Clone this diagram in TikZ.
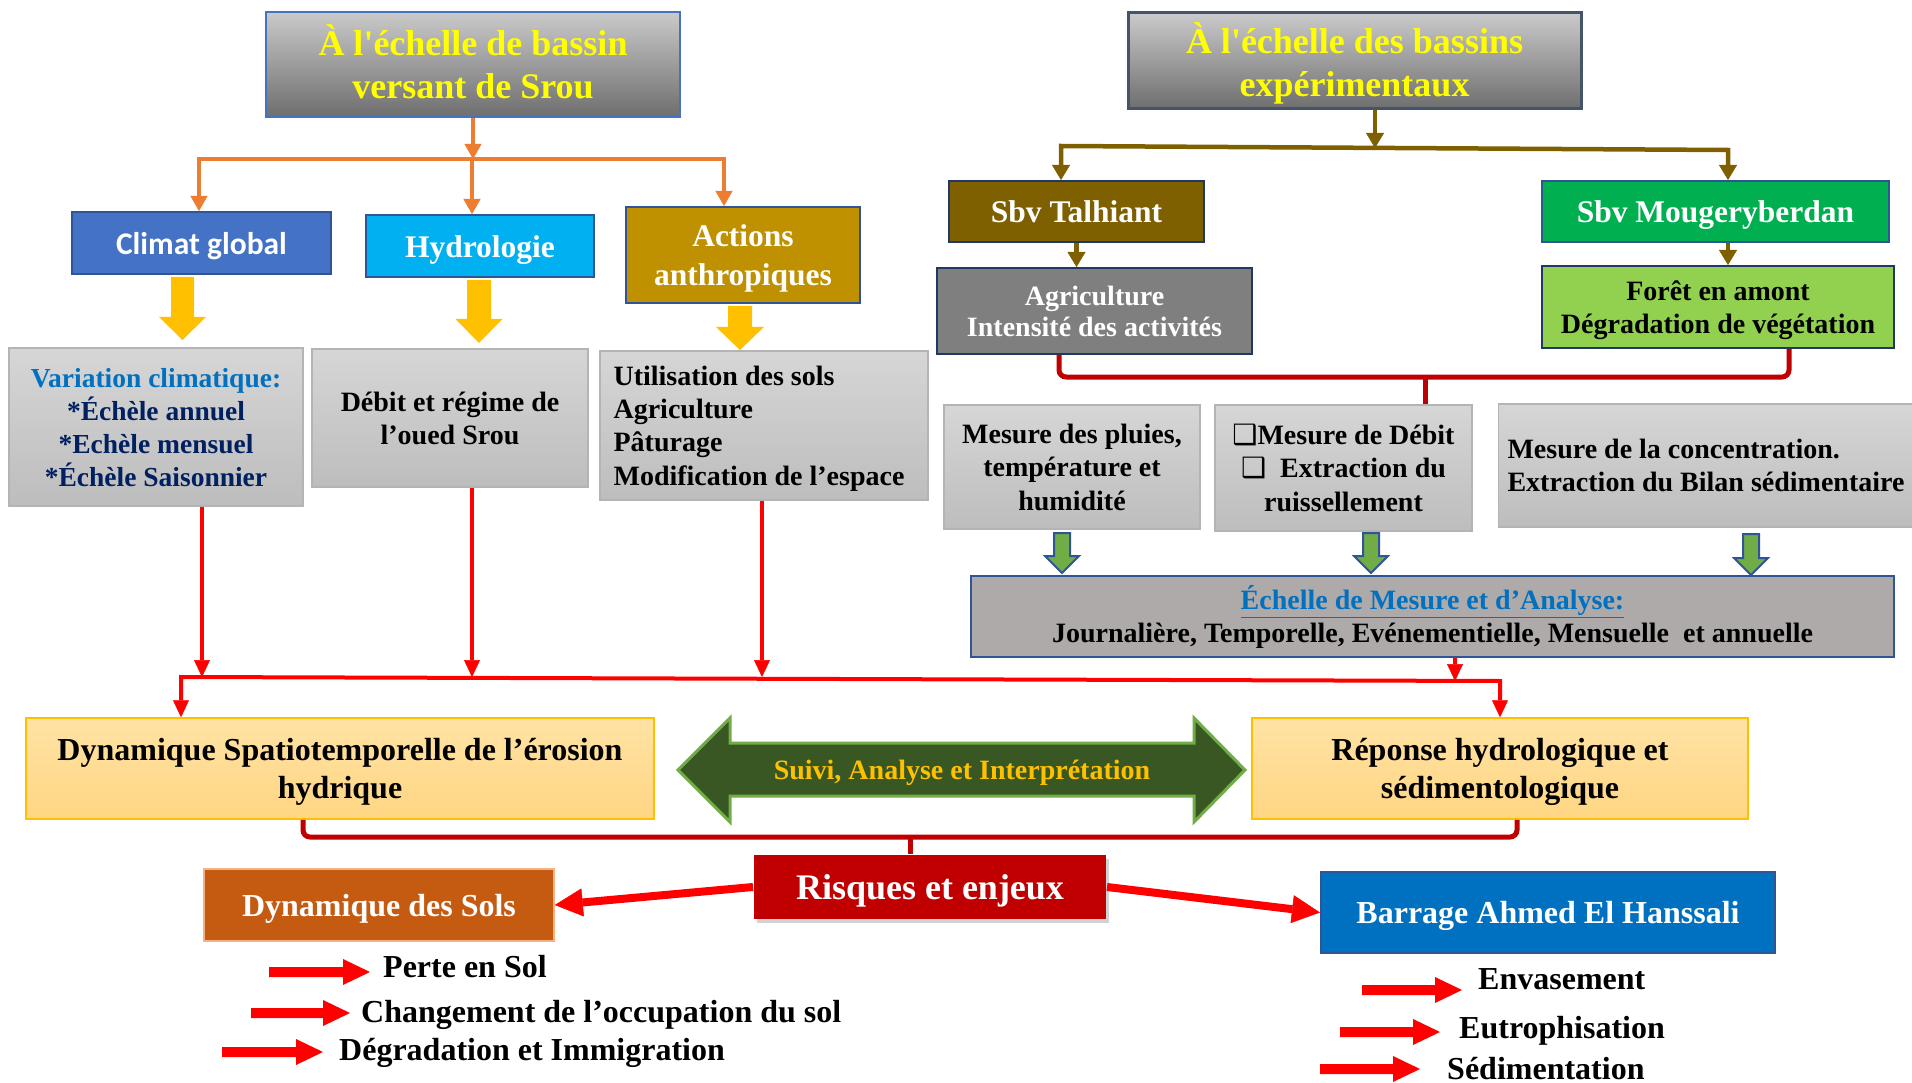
\documentclass[tikz,border=0pt]{standalone}
\usepackage{fontspec}
\setmainfont{Liberation Serif}
\newfontfamily\calib{Carlito}
\newfontfamily\djv{DejaVu Sans}
\usetikzlibrary{arrows.meta,shadows,calc}
\definecolor{cOrange}{HTML}{ED7D31}
\definecolor{cBlue}{HTML}{4472C4}
\definecolor{bdBlue}{HTML}{2F5597}
\definecolor{bdNavy}{HTML}{1F3864}
\definecolor{cCyan}{HTML}{00B0F0}
\definecolor{cGold}{HTML}{BF9000}
\definecolor{cYel}{HTML}{FFC000}
\definecolor{gTop}{HTML}{D6D6D6}
\definecolor{gBot}{HTML}{BDBDBD}
\definecolor{gBd}{HTML}{B4B4B4}
\definecolor{cVar}{HTML}{0070C0}
\definecolor{cNavy}{HTML}{002060}
\definecolor{cRed}{HTML}{FF0000}
\definecolor{cBrown}{HTML}{7F6000}
\definecolor{cGreen}{HTML}{00B050}
\definecolor{cGray}{HTML}{7F7F7F}
\definecolor{cLime}{HTML}{92D050}
\definecolor{cDark}{HTML}{C00000}
\definecolor{cGArr}{HTML}{70AD47}
\definecolor{cEch}{HTML}{AEAAAA}
\definecolor{yTop}{HTML}{FFE2A4}
\definecolor{yBot}{HTML}{FFD683}
\definecolor{cSuivi}{HTML}{385723}
\definecolor{cSols}{HTML}{C55A11}
\definecolor{bdSols}{HTML}{F4B183}
\definecolor{cBarr}{HTML}{0070C0}
\definecolor{tTop}{HTML}{CACACA}
\definecolor{tBot}{HTML}{6E6E6E}
\definecolor{bdTitle}{HTML}{44546A}
\definecolor{cTitleTxt}{HTML}{FFFF00}
\newcommand\dnarrow[7]{\path[#1] (#2-#6,#3) -- (#2+#6,#3) -- (#2+#6,#4) -- (#2+#7,#4) -- (#2,#5) -- (#2-#7,#4) -- (#2-#6,#4) -- cycle;}
\newcommand\rbul[3]{\fill[cRed] (#1,#3-5) -- (#2-27,#3-5) -- (#2-27,#3-13) -- (#2,#3) -- (#2-27,#3+13) -- (#2-27,#3+5) -- (#1,#3+5) -- cycle;}
\newcommand\Tst{\rule{0pt}{0.95em}}
\newcommand\Bst{\rule[-0.25em]{0pt}{0.01pt}}
\tikzset{
  sz/.style 2 args={minimum width=#1pt, minimum height=#2pt},
  ttl/.style={shade, top color=tTop, bottom color=tBot, line width=2.5pt, inner sep=0pt, align=center, text=cTitleTxt, font=\bfseries\fontsize{36}{43.5}\selectfont},
  lbl/.style={inner sep=0pt, align=center, text=white, line width=2pt, font=\bfseries\fontsize{31.5}{39}\selectfont},
  gbox/.style={shade, top color=gTop, bottom color=gBot, draw=gBd, line width=1.5pt, inner sep=0pt, align=center, font=\bfseries\fontsize{28}{33.3}\selectfont},
  ybox/.style={shade, top color=yTop, bottom color=yBot, draw=cYel, line width=1.5pt, inner sep=0pt, align=center, font=\bfseries\fontsize{32}{38}\selectfont},
  item/.style={anchor=base west, inner sep=0pt, font=\bfseries\fontsize{32}{38}\selectfont},
  orline/.style={draw=cOrange, line width=4.5pt, >={Triangle[length=15pt,width=17pt,line width=0.5pt]}},
  brline/.style={draw=cBrown, line width=4.5pt, >={Triangle[length=15pt,width=18pt,line width=0.5pt]}},
  rline/.style={draw=cRed, line width=4pt, >={Triangle[length=17pt,width=16pt,line width=0.5pt]}},
  brk/.style={draw=cDark, line width=5pt, rounded corners=7pt},
  bigred/.style={draw=cRed, line width=8pt, -{Triangle[length=28pt,width=28pt,line width=0.5pt]}},
}
\begin{document}
\begin{tikzpicture}[x=1pt,y=-1pt]
\useasboundingbox (0,0) rectangle (1912,1083);
\fill[white] (0,0) rectangle (1912,1083);

% titles
\node[ttl, draw=cBlue, sz={414}{105}] (t1) at (473,64.5) {\Tst À l\textquotesingle échelle de bassin\\versant de Srou\Bst};
\node[ttl, draw=bdTitle, line width=3pt, sz={453}{96}] (t2) at (1354.5,61) {\rule{0pt}{1.02em}À l\textquotesingle échelle des bassins\\expérimentaux\Bst};

% left row 1
\node[lbl, fill=cBlue, draw=bdBlue, sz={259}{62}, font=\calib\bfseries\fontsize{31.5}{38}\selectfont] (climat) at (201.5,243) {\Tst Climat global\Bst};
\node[lbl, fill=cCyan, draw=bdBlue, sz={228}{62}] (hydro) at (480,246) {\Tst Hydrologie\Bst};
\node[lbl, fill=cGold, draw=bdBlue, sz={234}{96}] (actions) at (743,255) {\Tst Actions\\anthropiques\Bst};

% left row 2
\node[gbox, sz={294}{158}, text=cNavy, font=\bfseries\fontsize{27.5}{33}\selectfont] (var) at (156,427) {\Tst\textcolor{cVar}{Variation climatique:}\\{*}Échèle annuel\\{*}Echèle mensuel\\{*}Échèle Saisonnier\Bst};
\node[gbox, sz={276}{138}] (debit) at (450,418) {\Tst Débit et régime de\\l’oued Srou\Bst};
\node[gbox, sz={328}{149}, align=left] (util) at (764,425.5) {\Tst Utilisation des sols\\Agriculture\\Pâturage\\Modification de l’espace\hspace*{10pt}\Bst};

% right column
\node[lbl, fill=cBrown, draw=bdNavy, sz={255}{61}] (talh) at (1076.5,211.5) {\Tst Sbv Talhiant\Bst};
\node[lbl, fill=cGreen, draw=bdBlue, sz={347}{61}] (moug) at (1715.5,211.5) {\Tst Sbv Mougeryberdan\Bst};
\node[lbl, fill=cGray, draw=bdNavy, sz={315}{86}, font=\bfseries\fontsize{28}{31.5}\selectfont] (agri) at (1094.5,311) {\Tst Agriculture\\Intensité des activités\Bst};
\node[lbl, fill=cLime, draw=bdNavy, text=black, sz={352}{82}, font=\bfseries\fontsize{28}{33}\selectfont] (foret) at (1718,307) {\Tst Forêt en amont\\Dégradation de végétation\Bst};

\node[gbox, sz={256}{124}] (pluies) at (1072,467) {\Tst Mesure des pluies,\\température et\\humidité\Bst};
\node[gbox, sz={257}{126}] (mdeb) at (1343.5,468) {\Tst{\djv\mdseries ❑}Mesure de Débit\\{\djv\mdseries ❑}\ \ Extraction du\\ruissellement\Bst};
\node[gbox, sz={415}{123}, align=left] (conc) at (1706,465.5) {\Tst Mesure de la concentration.\\Extraction du Bilan sédimentaire\Bst};

\node[draw=bdBlue, fill=cEch, line width=2pt, sz={923}{81}, inner sep=0pt, align=center, font=\bfseries\fontsize{28}{33}\selectfont] (ech) at (1432.5,616.5) {\Tst\textcolor{cVar}{\underline{Échelle de Mesure et d’Analyse:}}\\Journalière, Temporelle, Evénementielle, Mensuelle\ \ et annuelle\Bst};

% middle row
\node[ybox, sz={628}{101}] (dyn) at (340,768.5) {\Tst Dynamique Spatiotemporelle de l’érosion\\hydrique\Bst};
\node[ybox, sz={496}{101}] (rep) at (1500,768.5) {\Tst Réponse hydrologique et\\sédimentologique\Bst};

\path[fill=cSuivi, draw=cGArr, line width=3pt] (678,770) -- (730,718) -- (730,743) -- (1194,743) -- (1194,718) -- (1245,770) -- (1194,822) -- (1194,796) -- (730,796) -- (730,822) -- cycle;
\node[inner sep=0pt, text=cYel, font=\bfseries\fontsize{28}{33}\selectfont] (suivi) at (962,770) {\Tst Suivi, Analyse et Interprétation\Bst};

% bottom
\node[lbl, fill=cDark, sz={352}{64}, font=\bfseries\fontsize{36}{43}\selectfont, drop shadow={shadow xshift=3pt,shadow yshift=-4pt,opacity=0.35}] (risq) at (930,887) {\Tst Risques et enjeux\Bst};
\node[lbl, fill=cSols, draw=bdSols, line width=1.5pt, sz={350}{72}, font=\bfseries\fontsize{32}{38}\selectfont] (sols) at (379,905) {\Tst Dynamique des Sols\Bst};
\node[lbl, fill=cBarr, draw=bdBlue, sz={454}{81}, font=\bfseries\fontsize{32}{38}\selectfont] (barr) at (1548,912.5) {\Tst Barrage Ahmed El Hanssali\Bst};

\node[item] (perte) at (383,977) {Perte en Sol};
\node[item] (chang) at (361,1022) {Changement de l’occupation du sol};
\node[item] (degr) at (339,1060) {Dégradation et Immigration};
\node[item] (envas) at (1478,989) {Envasement};
\node[item] (eutro) at (1459,1038) {Eutrophisation};
\node[item] (sedim) at (1447,1079) {Sédimentation};

\rbul{269}{370}{972}
\rbul{251}{350}{1013}
\rbul{222}{323}{1052}
\rbul{1362}{1462}{990}
\rbul{1340}{1440}{1032}
\rbul{1320}{1420}{1069}

% yellow and green block arrows
\dnarrow{fill=cYel}{182.5}{277}{317}{340}{11.5}{23.5}
\dnarrow{fill=cYel}{479}{280}{319}{343}{12}{23.5}
\dnarrow{fill=cYel}{740}{306}{327}{350}{12}{24}
\dnarrow{fill=cGArr, draw=bdBlue, line width=2pt}{1062}{533}{556}{573}{8}{17}
\dnarrow{fill=cGArr, draw=bdBlue, line width=2pt}{1371}{533}{556}{573}{8}{17}
\dnarrow{fill=cGArr, draw=bdBlue, line width=2pt}{1751}{534}{558}{575}{8}{17}

% orange tree
\coordinate (oL) at (199,159);
\coordinate (oM) at (472,159);
\coordinate (oR) at (724,159);
\draw[orline,->] (t1.south) -- (t1.south |- oM);
\draw[orline,<->] (oL |- climat.north) -- (oL) -- (oR) -- (oR |- actions.north);
\draw[orline,->] (oM) -- (oM |- hydro.north);

% brown tree
\coordinate (bL) at (1061,146);
\coordinate (bR) at (1728,150);
\coordinate (bM) at (1375,148);
\coordinate (t2S) at ([xshift=20.5pt]t2.south);
\draw[brline,->] (t2S) -- (t2S |- bM);
\draw[brline,<->] (bL |- talh.north) -- (bL) -- (bR) -- (bR |- moug.north);
\draw[brline,->] (talh.south) -- (talh.south |- agri.north);
\coordinate (mS) at ([xshift=12.5pt]moug.south);
\draw[brline,->] (mS) -- (mS |- foret.north);

% dark red bracket 1
\coordinate (aS) at ([xshift=-35.5pt]agri.south);
\coordinate (fS) at ([xshift=71pt]foret.south);
\coordinate (brA) at (1425,377);
\draw[brk] (aS) |- (brA) -| (fS);
\draw[brk] (brA) -- (brA |- mdeb.north);

% red collector
\coordinate (rL) at (181,677);
\coordinate (rR) at (1500,681);
\coordinate (vS) at ([xshift=46pt]var.south);
\coordinate (dS) at ([xshift=22pt]debit.south);
\coordinate (uS) at ([xshift=-2pt]util.south);
\coordinate (eS) at ([xshift=22.5pt]ech.south);
\draw[rline,->] (vS) -- (vS |- rL);
\draw[rline,->] (dS) -- (dS |- rL);
\draw[rline,->] (uS) -- (uS |- rL);
\draw[rline,<->] (rL |- dyn.north) -- (rL) -- (rR) -- (rR |- rep.north);
\draw[rline,->] (eS) -- (eS |- rR);

% dark red bracket 2
\coordinate (dyS) at ([xshift=-37pt]dyn.south);
\coordinate (reS) at ([xshift=17pt]rep.south);
\coordinate (brB) at (910,837);
\draw[brk] (dyS) |- (brB) -| (reS);
\draw[brk] (brB) -- (brB |- risq.north);

% risk arrows
\draw[bigred] (risq.west) -- (sols.east);
\draw[bigred] (risq.east) -- (barr.west);
\end{tikzpicture}
\end{document}
